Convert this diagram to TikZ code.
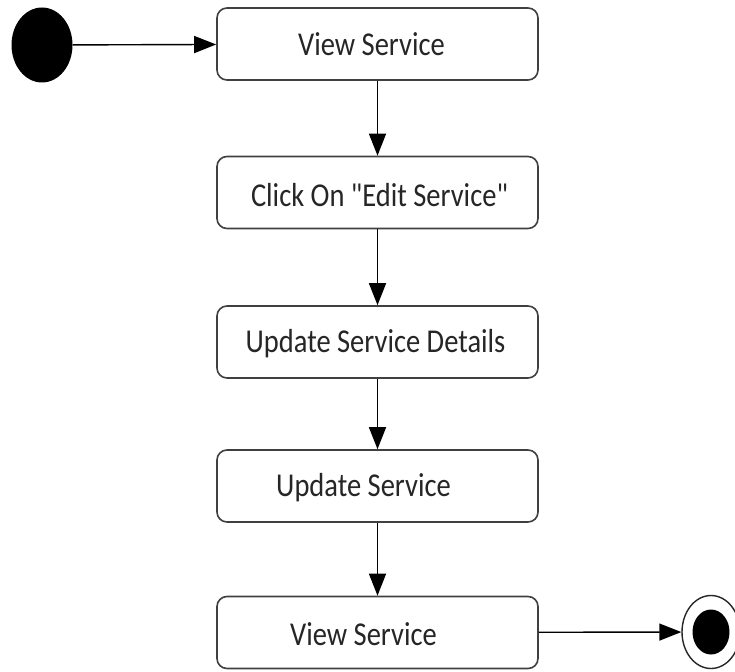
\documentclass[tikz,border=0pt]{standalone}
\usepackage{fontspec}
\setmainfont{Carlito}[Ligatures=TeXOff]
\usetikzlibrary{arrows.meta,shapes.geometric}
\newcommand{\tallt}[1]{\scalebox{1}[1.17]{#1}}
\begin{document}
\begin{tikzpicture}[x=1pt,y=-1pt,
  actbox/.style={draw=black!75, line width=1.6pt, rounded corners=10pt,
    minimum width=321pt, minimum height=72pt, inner sep=0pt, fill=white},
  lbl/.style={font=\fontsize{28.5}{32}\selectfont, text=black!85},
  flow/.style={draw=black, line width=1.4pt, -{Triangle[length=22pt,width=17pt]}}]
\useasboundingbox (0,0) rectangle (735,671);
\node[actbox, label={[lbl, xshift=-6pt, yshift=0pt]center:\tallt{View Service}}] (v1) at (377.5,44) {};
\node[actbox, label={[lbl, xshift=2pt, yshift=-3pt]center:\tallt{Click On "Edit Service"}}] (c) at (377.5,192.5) {};
\node[actbox, label={[lbl, xshift=-2pt, yshift=-2pt]center:\tallt{Update Service Details}}] (ud) at (377.5,342) {};
\node[actbox, label={[lbl, xshift=-14pt, yshift=-2pt]center:\tallt{Update Service}}] (us) at (377.5,486) {};
\node[actbox, label={[lbl, xshift=-14pt, yshift=-2pt]center:\tallt{View Service}}] (v2) at (377.5,632.5) {};
\node[draw=none, fill=black, ellipse, minimum width=61pt, minimum height=75pt, inner sep=0pt] (start) at (42,45) {};
\node[draw=black!85, line width=1.4pt, fill=white, ellipse, minimum width=58pt, minimum height=73pt, inner sep=0pt] (end) at (711,632) {};
\node[fill=black, ellipse, minimum width=37pt, minimum height=45pt, inner sep=0pt] (endin) at (711,632) {};
\draw[flow] (start) -- (v1);
\draw[flow] (v1) -- (c);
\draw[flow] (c) -- (ud);
\draw[flow] (ud) -- (us);
\draw[flow] (us) -- (v2);
\draw[flow] (v2) -- (end);
\end{tikzpicture}
\end{document}
